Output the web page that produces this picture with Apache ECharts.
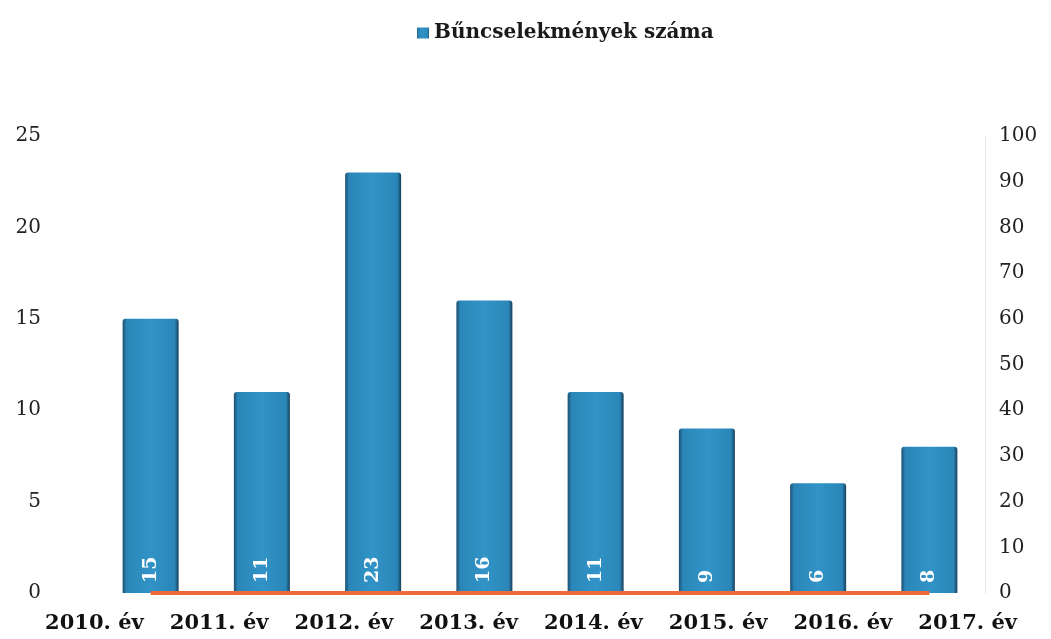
<!DOCTYPE html>
<html><head><meta charset="utf-8">
<script src="https://cdn.jsdelivr.net/npm/echarts@6/dist/echarts.min.js"></script>
<style>html,body{margin:0;padding:0;background:#fff}#c{width:1051px;height:639px}</style>
</head><body><div id="c"></div>
<script>
const categories = ['2010. év','2011. év','2012. év','2013. év','2014. év','2015. év','2016. év','2017. év'];
const crimes = [15, 11, 23, 16, 11, 9, 6, 8];
const baseline = [0, 0, 0, 0, 0, 0, 0, 0];
const leftTicks = {min: 0, max: 25, interval: 5};
const rightTicks = {min: 0, max: 100, interval: 10};
const seriesName = 'Bűncselekmények száma';

const font = 'DejaVu Serif';
const chart = echarts.init(document.getElementById('c'));
chart.setOption({
  animation: false,
  backgroundColor: '#fff',
  legend: {
    data: [seriesName], top: 18, left: 412,
    itemWidth: 12, itemHeight: 11, itemGap: 4,
    icon: 'rect',
    textStyle: {fontFamily: font, fontWeight: 'bold', fontSize: 20, color: '#1a1a1a'}
  },
  grid: [
    {left: 95, right: 66, top: 136, bottom: 46},
    {left: 32, right: 21, top: 136, bottom: 46}
  ],
  xAxis: [
    {type: 'category', data: categories, gridIndex: 0,
     axisLine: {show: false}, axisTick: {show: false}, axisLabel: {show: false}},
    {type: 'category', data: categories, gridIndex: 1,
     axisLine: {show: false}, axisTick: {show: false},
     axisLabel: {interval: 0, hideOverlap: false, fontFamily: font, fontWeight: 'bold', fontSize: 21, color: '#111', margin: 20}}
  ],
  yAxis: [
    {type: 'value', gridIndex: 0, min: leftTicks.min, max: leftTicks.max, interval: leftTicks.interval,
     splitLine: {show: false}, axisLine: {show: false}, axisTick: {show: false},
     axisLabel: {fontFamily: font, fontSize: 20, color: '#222', margin: 54}},
    {type: 'value', gridIndex: 0, min: rightTicks.min, max: rightTicks.max, interval: rightTicks.interval,
     splitLine: {show: false}, axisLine: {show: true, lineStyle: {color: '#e4e4ec'}}, axisTick: {show: false},
     axisLabel: {fontFamily: font, fontSize: 20, color: '#222', margin: 14}},
    {type: 'value', gridIndex: 1, show: false, min: 0, max: 1}
  ],
  series: [
    {
      name: seriesName, type: 'bar', data: crimes, barWidth: 56, xAxisIndex: 0, yAxisIndex: 0,
      itemStyle: {
        color: new echarts.graphic.LinearGradient(0, 0, 1, 0, [
          {offset: 0, color: '#1c4f70'},
          {offset: 0.07, color: '#2b86b8'},
          {offset: 0.5, color: '#3193c6'},
          {offset: 0.93, color: '#2b86b8'},
          {offset: 1, color: '#173f5a'}
        ]),
        borderRadius: [3, 3, 0, 0]
      },
      label: {
        show: true, position: 'insideBottom', rotate: 90, distance: 10,
        align: 'left', verticalAlign: 'middle',
        fontFamily: font, fontWeight: 'bold', fontSize: 19, color: '#fff'
      }
    },
    {
      name: 'baseline', type: 'line', data: baseline, xAxisIndex: 0, yAxisIndex: 1,
      symbol: 'none', lineStyle: {color: '#ec6a3c', width: 4}, z: 5
    }
  ]
});
</script></body></html>
